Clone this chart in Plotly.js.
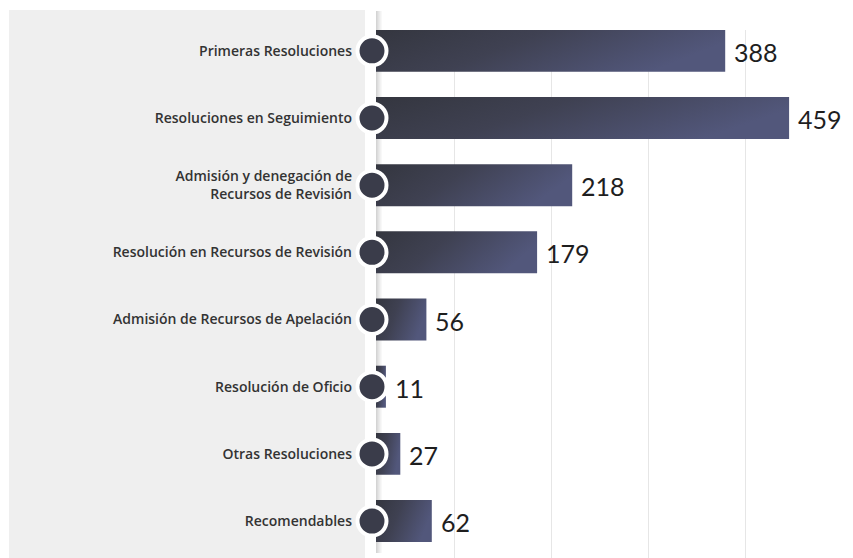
<!DOCTYPE html>
<html>
<head>
<meta charset="utf-8">
<script src="https://cdn.plot.ly/plotly-3.0.1.min.js"></script>
<style>
html,body{margin:0;padding:0;background:#ffffff;}
#chart{width:853px;height:558px;}
</style>
</head>
<body>
<div id="chart"></div>
<script>
// ---- data ----
var categories = [
  "Primeras Resoluciones",
  "Resoluciones en Seguimiento",
  "Admisión y denegación de<br>Recursos de Revisión",
  "Resolución en Recursos de Revisión",
  "Admisión de Recursos de Apelación",
  "Resolución de Oficio",
  "Otras Resoluciones",
  "Recomendables"
];
var values = [388, 459, 218, 179, 56, 11, 27, 62];
var valueLabels = ["388", "459", "218", "179", "56", "11", "27", "62"];

// ---- layout constants (pixels) ----
var W = 853, H = 558;
var X0PX = 376;            // pixel where value 0 sits
var ML = 356, MR = 10, MT = 30, MB = 0;
var plotW = W - ML - MR, plotH = H - MT - MB;
var pxPerUnit = 0.9;
var xMin = (ML - X0PX) / pxPerUnit;
var xMax = xMin + plotW / pxPerUnit;
function px2paperX(px){ return (px - ML) / plotW; }
function px2paperY(py){ return (H - MB - py) / plotH; }
var circleX = (372 - X0PX) / pxPerUnit;
var circleXs = categories.map(function(){ return circleX; });

var barTrace = {
  type: 'bar',
  orientation: 'h',
  x: values,
  y: categories,
  marker: {color: '#45485f', line: {width: 0}},
  width: 0.625,
  hoverinfo: 'skip'
};
var dotTrace = {
  type: 'scatter',
  mode: 'markers',
  x: circleXs,
  y: categories,
  cliponaxis: false,
  marker: {size: 29, color: '#3a3c4a', line: {color: '#ffffff', width: 4}},
  hoverinfo: 'skip'
};

var shapes = [];
// grey label panel
shapes.push({type:'rect', xref:'paper', yref:'paper', layer:'below',
  x0: px2paperX(9), x1: px2paperX(365), y0: px2paperY(560), y1: px2paperY(10),
  fillcolor:'#efefef', line:{width:0}});
// white divider
shapes.push({type:'rect', xref:'paper', yref:'paper', layer:'below',
  x0: px2paperX(365), x1: px2paperX(376), y0: px2paperY(560), y1: px2paperY(0),
  fillcolor:'#ffffff', line:{width:0}});
// soft shadow strip right of the white divider
var shadowCols = ['#d4d4d4','#dcdcdc','#e4e4e4','#ebebeb','#f2f2f2','#f8f8f8'];
for (var i = 0; i < shadowCols.length; i++) {
  shapes.push({type:'rect', xref:'paper', yref:'paper', layer:'below',
    x0: px2paperX(376 + i), x1: px2paperX(377 + i), y0: px2paperY(553), y1: px2paperY(11),
    fillcolor: shadowCols[i], line:{width:0}});
}

var annotations = values.map(function(v, i){
  return {x: v, y: categories[i], xref:'x', yref:'y', text: valueLabels[i],
    showarrow:false, xanchor:'left', yanchor:'middle', xshift: 7, yshift: -1,
    font:{family:'Lato, "Noto Sans", sans-serif', size:25, color:'#1e1e1e'}};
});

var layout = {
  width: W, height: H,
  margin: {l: ML, r: MR, t: MT, b: MB, pad: 0},
  paper_bgcolor: '#ffffff',
  plot_bgcolor: 'rgba(0,0,0,0)',
  showlegend: false,
  bargap: 0.375,
  xaxis: {
    range: [xMin, xMax],
    showgrid: true, gridcolor: '#e6e6e6', gridwidth: 1,
    tick0: (454 - X0PX) / pxPerUnit, dtick: 97 / pxPerUnit,
    showticklabels: false, zeroline: false, showline: false, ticks: ''
  },
  yaxis: {
    type: 'category',
    range: [7.55, -0.31],
    showgrid: false, zeroline: false, showline: false, ticks: '',
    ticklabelstandoff: 3,
    tickfont: {family: '"Open Sans", "Noto Sans", sans-serif', size: 14, color: '#333333', weight: 600}
  },
  shapes: shapes,
  annotations: annotations
};

Plotly.newPlot('chart', [barTrace, dotTrace], layout, {displayModeBar: false, staticPlot: true}).then(function(gd){
  var svg = gd.querySelector('svg.main-svg');
  var defs = svg.querySelector('defs');
  var ns = 'http://www.w3.org/2000/svg';
  var grad = document.createElementNS(ns, 'linearGradient');
  grad.setAttribute('id', 'barGrad');
  grad.setAttribute('x1', '0'); grad.setAttribute('y1', '0');
  grad.setAttribute('x2', '1'); grad.setAttribute('y2', '0.3');
  var stops = [['0', '#34363f'], ['0.45', '#3f4152'], ['1', '#52577b']];
  stops.forEach(function(s){
    var st = document.createElementNS(ns, 'stop');
    st.setAttribute('offset', s[0]);
    st.setAttribute('stop-color', s[1]);
    grad.appendChild(st);
  });
  defs.appendChild(grad);
  gd.querySelectorAll('.trace.bars .point path').forEach(function(p){
    p.style.fill = 'url(#barGrad)';
  });
});
</script>
</body>
</html>
